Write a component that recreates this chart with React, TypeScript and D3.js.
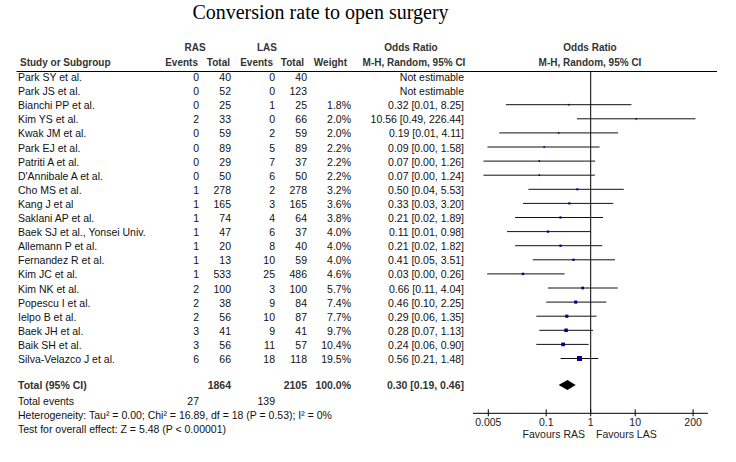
import React from 'react'
import * as d3 from 'd3'

const studies = [
  'Park SY et al.', 'Park JS et al.', 'Bianchi PP et al.', 'Kim YS et al.', 'Kwak JM et al.',
  'Park EJ et al.', 'Patriti A et al.', "D'Annibale A et al.", 'Cho MS et al.', 'Kang J et al',
  'Saklani AP et al.', 'Baek SJ et al., Yonsei Univ.', 'Allemann P et al.', 'Fernandez R et al.',
  'Kim JC et al.', 'Kim NK et al.', 'Popescu I et al.', 'Ielpo B et al.', 'Baek JH et al.',
  'Baik SH et al.', 'Silva-Velazco J et al.',
]
const rasEvents = [0, 0, 0, 2, 0, 0, 0, 0, 1, 1, 1, 1, 1, 1, 1, 2, 2, 2, 3, 3, 6]
const rasTotal = [40, 52, 25, 33, 59, 89, 29, 50, 278, 165, 74, 47, 20, 13, 533, 100, 38, 56, 41, 56, 66]
const lasEvents = [0, 0, 1, 0, 2, 5, 7, 6, 2, 3, 4, 6, 8, 10, 25, 3, 9, 10, 9, 11, 18]
const lasTotal = [40, 123, 25, 66, 59, 89, 37, 50, 278, 165, 64, 37, 40, 59, 486, 100, 84, 87, 41, 57, 118]
// null = not estimable
const weights = [null, null, 1.8, 2.0, 2.0, 2.2, 2.2, 2.2, 3.2, 3.6, 3.8, 4.0, 4.0, 4.0, 4.6, 5.7, 7.4, 7.7, 9.7, 10.4, 19.5]
const oddsRatio = [null, null, 0.32, 10.56, 0.19, 0.09, 0.07, 0.07, 0.50, 0.33, 0.21, 0.11, 0.21, 0.41, 0.03, 0.66, 0.46, 0.29, 0.28, 0.24, 0.56]
const ciLow = [null, null, 0.0124, 0.49, 0.0088, 0.0048, 0.0039, 0.0039, 0.04, 0.03, 0.02, 0.0132, 0.02, 0.05, 0.0047, 0.11, 0.10, 0.06, 0.07, 0.06, 0.21]
const ciHigh = [null, null, 8.25, 226.44, 4.11, 1.58, 1.26, 1.24, 5.53, 3.20, 1.89, 0.98, 1.82, 3.51, 0.26, 4.04, 2.25, 1.35, 1.13, 0.90, 1.48]

const totalRas = 1864
const totalLas = 2105
const totalEventsRas = 27
const totalEventsLas = 139
const pooled = [0.30, 0.19, 0.46]
const axisTicks = [0.005, 0.1, 1, 10, 200]

const font = 'Arial, "Liberation Sans", sans-serif'
const f2 = (v: number) => v.toFixed(2)

const App = () => {
  const x = d3.scaleLog().domain([0.005, 200]).range([488.3, 693.1])
  const rowY = (i: number) => 81 + i * 14.1
  const size = d3.scaleSqrt().domain([0, 19.5]).range([0, 5])
  const col = { study: 18, rasEv: 199, rasTot: 231, lasEv: 275, lasTot: 307, weight: 351, or: 464 }
  const headColor = '#333'
  const axisY = 413.3
  const totY = 389

  return (
    <svg width={736} height={462} style={{ position: 'absolute', left: 0, top: 0, background: '#fff' }}
      fontFamily={font}>
      <text x={320.5} y={19} textAnchor="middle" fontFamily='"Liberation Serif", "Times New Roman", serif' fontSize={20}>
        Conversion rate to open surgery
      </text>

      {/* header */}
      <g fontSize={10} fontWeight="bold" fill={headColor}>
        <text x={195} y={51} textAnchor="middle">RAS</text>
        <text x={267} y={51} textAnchor="middle">LAS</text>
        <text x={411} y={51} textAnchor="middle">Odds Ratio</text>
        <text x={590} y={51} textAnchor="middle">Odds Ratio</text>
        <text x={col.study + 2} y={66}>Study or Subgroup</text>
        <text x={col.rasEv - 1} y={66} textAnchor="end">Events</text>
        <text x={col.rasTot - 1} y={66} textAnchor="end">Total</text>
        <text x={col.lasEv - 2} y={66} textAnchor="end">Events</text>
        <text x={col.lasTot - 3} y={66} textAnchor="end">Total</text>
        <text x={col.weight - 4} y={66} textAnchor="end">Weight</text>
        <text x={414} y={66} textAnchor="middle">M-H, Random, 95% CI</text>
        <text x={590} y={66} textAnchor="middle">M-H, Random, 95% CI</text>
      </g>
      <line x1={16.5} x2={717} y1={71.5} y2={71.5} stroke="#000" strokeWidth={1.2} />

      {/* study rows */}
      <g fontSize={10.5} fill="#111">
        {studies.map((s, i) => (
          <g key={s}>
            <text x={col.study} y={rowY(i)}>{s}</text>
            <text x={col.rasEv} y={rowY(i)} textAnchor="end">{rasEvents[i]}</text>
            <text x={col.rasTot} y={rowY(i)} textAnchor="end">{rasTotal[i]}</text>
            <text x={col.lasEv} y={rowY(i)} textAnchor="end">{lasEvents[i]}</text>
            <text x={col.lasTot} y={rowY(i)} textAnchor="end">{lasTotal[i]}</text>
            {weights[i] != null && (
              <text x={col.weight} y={rowY(i)} textAnchor="end">{weights[i]!.toFixed(1)}%</text>
            )}
            <text x={col.or} y={rowY(i)} textAnchor="end">
              {oddsRatio[i] == null ? 'Not estimable'
                : `${f2(oddsRatio[i]!)} [${f2(ciLow[i]!)}, ${f2(ciHigh[i]!)}]`}
            </text>
          </g>
        ))}
      </g>

      {/* totals */}
      <g fontSize={10.5} fontWeight="bold" fill={headColor}>
        <text x={col.study} y={totY}>Total (95% CI)</text>
        <text x={col.rasTot} y={totY} textAnchor="end">{totalRas}</text>
        <text x={col.lasTot} y={totY} textAnchor="end">{totalLas}</text>
        <text x={col.weight} y={totY} textAnchor="end">100.0%</text>
        <text x={col.or} y={totY} textAnchor="end">{`${f2(pooled[0])} [${f2(pooled[1])}, ${f2(pooled[2])}]`}</text>
      </g>
      <g fontSize={10.5} fill="#111">
        <text x={col.study} y={405}>Total events</text>
        <text x={col.rasEv} y={405} textAnchor="end">{totalEventsRas}</text>
        <text x={col.lasEv} y={405} textAnchor="end">{totalEventsLas}</text>
        <text x={col.study} y={419}>Heterogeneity: Tau² = 0.00; Chi² = 16.89, df = 18 (P = 0.53); I² = 0%</text>
        <text x={col.study} y={433}>Test for overall effect: Z = 5.48 (P &lt; 0.00001)</text>
      </g>

      {/* forest plot */}
      <line x1={x(1)} x2={x(1)} y1={71.5} y2={axisY} stroke="#000" strokeWidth={1} />
      {studies.map((s, i) => {
        if (oddsRatio[i] == null) return null
        const cy = rowY(i) - 4.5
        const side = Math.max(1.6, size(weights[i]!))
        return (
          <g key={'m' + s}>
            <line x1={x(ciLow[i]!)} x2={x(ciHigh[i]!)} y1={cy} y2={cy} stroke="#111" strokeWidth={1} />
            <rect x={x(oddsRatio[i]!) - side / 2} y={cy - side / 2} width={side} height={side} fill="#00008b" />
          </g>
        )
      })}
      <polygon
        points={[
          [x(pooled[1]), totY - 4], [x(pooled[0]), totY - 9], [x(pooled[2]), totY - 4], [x(pooled[0]), totY + 1],
        ].map(p => p.join(',')).join(' ')}
        fill="#000"
      />

      {/* axis */}
      <line x1={473} x2={708} y1={axisY} y2={axisY} stroke="#000" strokeWidth={1} />
      {axisTicks.map(t => (
        <g key={t}>
          <line x1={x(t)} x2={x(t)} y1={axisY - 4} y2={axisY + 3} stroke="#000" />
          <text x={x(t)} y={426} textAnchor="middle" fontSize={10.5} fill="#222">{t}</text>
        </g>
      ))}
      <text x={585} y={438} textAnchor="end" fontSize={10.5} fill="#222">Favours RAS</text>
      <text x={596} y={438} fontSize={10.5} fill="#222">Favours LAS</text>
    </svg>
  )
}

export default App
